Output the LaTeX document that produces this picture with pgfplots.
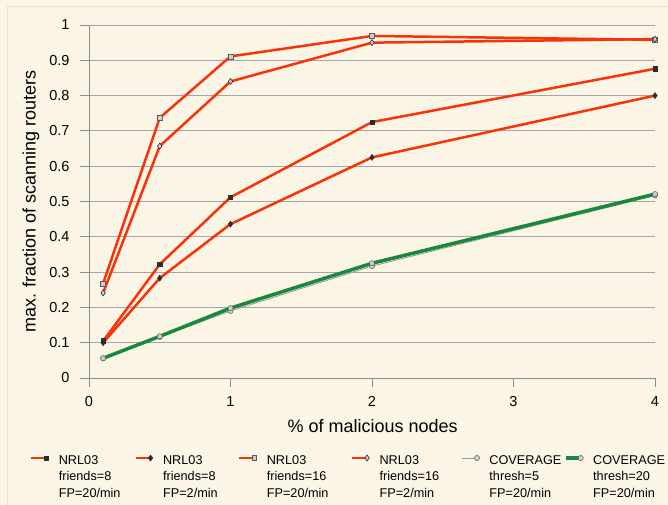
\documentclass[border=0pt]{standalone}
\usepackage{pgfplots}
\pgfplotsset{compat=1.18}
\usepackage{fontspec}
\setmainfont{Liberation Sans}
\definecolor{bg}{RGB}{251,245,230}
\definecolor{nred}{RGB}{250,50,10}
\definecolor{ngreen}{RGB}{25,135,60}
\definecolor{gridc}{RGB}{165,165,175}
\definecolor{axc}{RGB}{140,140,145}
\definecolor{mk}{RGB}{45,45,45}
\definecolor{mkl}{RGB}{205,205,205}
\definecolor{mke}{RGB}{90,90,90}
\definecolor{thinc}{RGB}{150,150,150}
\definecolor{framec}{RGB}{232,226,212}
\newcommand{\lgt}[4]{\begin{tabular}[t]{@{}p{#1}@{}}#2\\#3\\#4\end{tabular}}
\begin{document}
\begin{tikzpicture}
\fill[bg] (-89bp,-127bp) rectangle (579bp,378bp);
\draw[framec, line width=0.8bp] (-82bp,-127bp) -- (-82bp,372bp) -- (579bp,372bp);
\begin{axis}[
  at={(0,0)}, anchor=south west,
  scale only axis, width=566bp, height=353bp,
  xmin=0, xmax=4, ymin=0, ymax=1,
  xtick={0,1,2,3,4},
  ytick={0,0.1,0.2,0.3,0.4,0.5,0.6,0.7,0.8,0.9,1},
  axis x line*=bottom, axis y line*=left,
  axis line style={axc, line width=0.8bp, -},
  tick style={axc, line width=0.8bp},
  tick align=outside, major tick length=9bp,
  ymajorgrids, grid style={gridc, line width=0.8bp},
  tick label style={font=\fontsize{14.5bp}{17bp}\selectfont},
  xticklabel style={yshift=-6bp},
  yticklabel style={xshift=-7bp},
  /pgf/number format/assume math mode=true,
  xlabel={\% of malicious nodes},
  ylabel={max. fraction of scanning routers},
  xlabel style={font=\fontsize{18bp}{20bp}\selectfont, at={(axis description cs:0.501,-0.136)}, anchor=center, inner sep=0pt},
  ylabel style={font=\fontsize{18bp}{20bp}\selectfont, at={(axis description cs:-0.1025,0.5)}, anchor=center, inner sep=0pt},
  legend columns=6,
  legend style={draw=none, fill=none, at={(axis description cs:-0.1045,-0.21)}, anchor=north west,
    inner sep=0pt, column sep=0pt, row sep=0pt,
    font=\fontsize{12.7bp}{16.7bp}\selectfont,
    nodes={inner sep=0pt, anchor=base west}, cells={anchor=base west}},
  legend image code/.code={\path[draw=none, fill=none] (0bp,0bp) -- (27.5bp,0bp); \draw[#1, mark repeat=2, mark phase=2] plot coordinates {(0bp,6bp) (15bp,6bp)};},
]
\addplot[nred, line width=2.5bp, mark=square*, mark size=2.2bp, mark options={fill=mk, draw=mk, line width=0.5bp}]
  coordinates {(0.1,0.105) (0.5,0.322) (1,0.512) (2,0.725) (4,0.876)};
\addlegendentry{\lgt{75.5bp}{NRL03}{friends=8}{FP=20/min}}
\addplot[nred, line width=2.5bp, mark=diamond*, mark size=3bp, mark options={fill=mk, draw=mk, line width=0.5bp}]
  coordinates {(0.1,0.100) (0.5,0.283) (1,0.436) (2,0.625) (4,0.800)};
\addlegendentry{\lgt{75bp}{NRL03}{friends=8}{FP=2/min}}
\addplot[nred, line width=2.5bp, mark=square*, mark size=2.4bp, mark options={fill=mkl, draw=mke, line width=0.5bp}]
  coordinates {(0.1,0.268) (0.5,0.737) (1,0.911) (2,0.969) (4,0.958)};
\addlegendentry{\lgt{84bp}{NRL03}{friends=16}{FP=20/min}}
\addplot[nred, line width=2.5bp, mark=diamond*, mark size=3bp, mark options={fill=mkl, draw=mk, line width=0.6bp}]
  coordinates {(0.1,0.241) (0.5,0.657) (1,0.840) (2,0.950) (4,0.960)};
\addlegendentry{\lgt{82bp}{NRL03}{friends=16}{FP=2/min}}
\addplot[thinc, line width=0.8bp, mark=*, mark size=2.6bp, mark options={fill=mkl, draw=mke, line width=0.5bp}]
  coordinates {(0.1,0.056) (0.5,0.116) (1,0.190) (2,0.317) (4,0.517)};
\addlegendentry{\lgt{74.5bp}{COVERAGE}{thresh=5}{FP=20/min}}
\addplot[ngreen, line width=3.5bp, mark=*, mark size=2.6bp, mark options={fill=mkl, draw=mke, line width=0.5bp}]
  coordinates {(0.1,0.056) (0.5,0.118) (1,0.198) (2,0.325) (4,0.521)};
\addlegendentry{\lgt{72bp}{COVERAGE}{thresh=20}{FP=20/min}}
\end{axis}
\pgfresetboundingbox
\path (-89bp,-127bp) rectangle (579bp,378bp);
\end{tikzpicture}
\end{document}
